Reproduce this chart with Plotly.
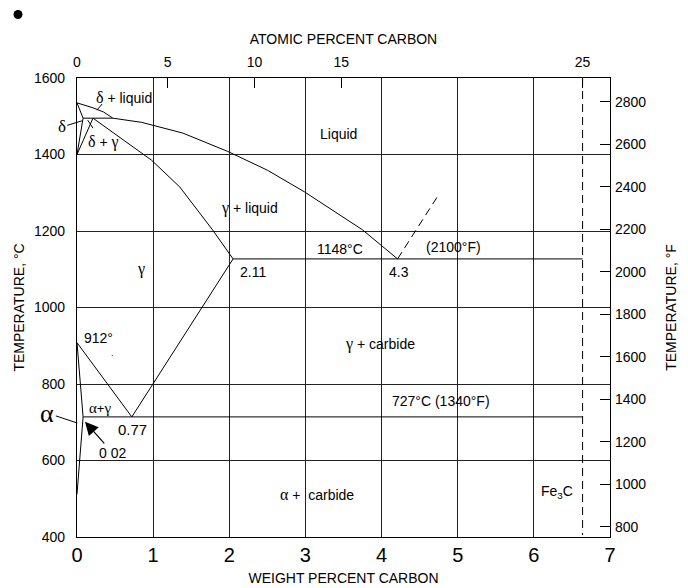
import plotly.graph_objects as go

# weight percent carbon / temperature (deg C)
delta_liq_x = [0, 0.21, 0.35, 0.47]
delta_liq_t = [1535, 1522, 1511, 1495]
liquidus_x = [0.47, 0.85, 1.39, 1.98, 2.5, 2.99, 3.75, 4.21]
liquidus_t = [1495, 1484, 1456, 1408, 1359, 1302, 1203, 1127]
solidus_x = [0.21, 0.56, 0.98, 1.35, 1.78, 2.05]
solidus_t = [1495, 1446, 1385, 1315, 1203, 1127]
acm_x = [2.05, 0.72]
acm_t = [1127, 714]
a3_x = [0, 0.72]
a3_t = [908, 714]
alpha_x = [0, 0.08, 0]
alpha_t = [908, 714, 512]
delta_sol_x = [0, 0.08, 0]
delta_sol_t = [1535, 1495, 1400]
gamma_low_x = [0.21, 0]
gamma_low_t = [1495, 1400]
peritectic_x = [0.08, 0.47]
peritectic_t = [1495, 1495]
eutectic_x = [2.05, 6.64]
eutectic_t = [1127, 1127]
eutectoid_x = [0.08, 6.64]
eutectoid_t = [714, 714]
fe3c_x = [6.64, 6.64]
fe3c_t = [1600, 405]
ext_x = [4.21, 4.75]
ext_t = [1127, 1295]

wt_ticks = [0, 1, 2, 3, 4, 5, 6, 7]
c_ticks = [400, 600, 800, 1000, 1200, 1400, 1600]
at_pos = [0, 1.19, 2.33, 3.47, 6.64]
at_labels = ["0", "5", "10", "15", "25"]
f_ticks = [800, 1000, 1200, 1400, 1600, 1800, 2000, 2200, 2400, 2600, 2800]

SANS = "Liberation Sans, Arial, sans-serif"


def g(s, size=16):
    # greek letters in a serif face, like the printed diagram
    return ('<span style="font-family:Liberation Serif, serif;font-size:%dpx">' % size) + s + '</span>'


fig = go.Figure()

solid = [
    (delta_liq_x, delta_liq_t), (liquidus_x, liquidus_t), (solidus_x, solidus_t),
    (acm_x, acm_t), (a3_x, a3_t), (alpha_x, alpha_t), (delta_sol_x, delta_sol_t),
    (gamma_low_x, gamma_low_t), (peritectic_x, peritectic_t),
    (eutectic_x, eutectic_t), (eutectoid_x, eutectoid_t),
]
for xs, ts in solid:
    fig.add_trace(go.Scatter(x=xs, y=ts, mode="lines", line=dict(color="black", width=1),
                             hoverinfo="skip", showlegend=False))

for xs, ts in [(fe3c_x, fe3c_t), (ext_x, ext_t)]:
    fig.add_trace(go.Scatter(x=xs, y=ts, mode="lines",
                             line=dict(color="black", width=1, dash="8px,5px"),
                             hoverinfo="skip", showlegend=False))

# dummy trace so the top / right axes get drawn
fig.add_trace(go.Scatter(x=[0], y=[800], xaxis="x2", yaxis="y2", mode="markers",
                         marker=dict(opacity=0), hoverinfo="skip", showlegend=False))

# labels: (text, x, T, size)
labels = [
    (g("δ") + " + liquid", 0.62, 1550, 14),
    (g("δ") + " + " + g("γ"), 0.35, 1433, 14),
    ("Liquid", 3.44, 1454, 14),
    (g("γ") + " + liquid", 2.26, 1260, 14),
    ("1148°C", 3.45, 1153, 14),
    ("(2100°F)", 4.95, 1158, 14),
    ("2.11", 2.31, 1093, 14),
    ("4.3", 4.23, 1093, 14),
    (g("γ"), 0.84, 1100, 14),
    ("912°", 0.28, 920, 14),
    (".", 0.47, 880, 9),
    (g("γ") + " + carbide", 3.98, 905, 14),
    (g("α", 15) + "+" + g("γ", 15), 0.30, 737, 13),
    ("0.77", 0.73, 682, 15),
    ("727°C (1340°F)", 4.78, 756, 14),
    (g("α") + " +  carbide", 3.15, 510, 14),
    ("Fe<sub>3</sub>C", 6.3, 518, 14),
]
for txt, x, t, sz in labels:
    fig.add_annotation(x=x, y=t, text=txt, showarrow=False,
                       font=dict(family=SANS, size=sz, color="black"))

# labels with pointer lines / arrows
fig.add_annotation(x=0.066, y=1488, ax=-0.2, ay=1472, axref="x", ayref="y",
                   text=g("δ", 17), showarrow=True, arrowhead=0, arrowwidth=1,
                   arrowcolor="black", font=dict(family=SANS, size=15, color="black"))
fig.add_annotation(x=0.004, y=698, ax=-0.39, ay=724, axref="x", ayref="y",
                   text=g("α", 26), showarrow=True, arrowhead=0, arrowwidth=1,
                   arrowcolor="black", font=dict(family=SANS, size=22, color="black"))
fig.add_annotation(x=0.105, y=701, ax=0.47, ay=620, axref="x", ayref="y",
                   text="0 02", showarrow=True, arrowhead=2, arrowsize=2.2, arrowwidth=1.2,
                   arrowcolor="black", font=dict(family=SANS, size=14, color="black"))

fig.add_shape(type="line", x0=0.26, y0=1516, x1=0.33, y1=1532,
              line=dict(color="black", width=1))
fig.add_shape(type="line", x0=0.14, y0=1490, x1=0.21, y1=1469,
              line=dict(color="black", width=1))

# bullet in the corner
fig.add_shape(type="circle", xref="paper", yref="paper",
              x0=-0.1191, x1=-0.1023, y0=1.1285, y1=1.1481,
              fillcolor="black", line=dict(color="black", width=0))

axis_font = dict(family=SANS, size=14, color="black")

# the page body keeps its default 8px margin, so the figure is 8px smaller
fig.update_layout(
    width=680, height=580,
    margin=dict(l=69, r=78, t=70, b=51, autoexpand=False),
    paper_bgcolor="white", plot_bgcolor="white",
    showlegend=False,
    font=dict(family=SANS, color="black"),
    xaxis=dict(range=[0, 7], tickvals=wt_ticks, showgrid=True, gridcolor="#222", gridwidth=1,
               zeroline=False, showline=True, linecolor="black", linewidth=1.2, mirror=True,
               ticks="", tickfont=dict(family=SANS, size=20, color="black"), automargin=False,
               title=dict(text="WEIGHT PERCENT CARBON", font=axis_font, standoff=8)),
    yaxis=dict(range=[400, 1600], tickvals=c_ticks, showgrid=True, gridcolor="#222", gridwidth=1,
               zeroline=False, showline=True, linecolor="black", linewidth=1.2, mirror=True,
               ticks="", tickfont=dict(family=SANS, size=14, color="black"), ticklabelstandoff=8,
               automargin=False,
               title=dict(text="TEMPERATURE, °C", font=axis_font, standoff=6)),
    xaxis2=dict(range=[0, 7], overlaying="x", side="top", anchor="y",
                tickvals=at_pos, ticktext=at_labels, ticks="inside", ticklen=10,
                tickcolor="black", showgrid=False, zeroline=False, automargin=False,
                tickfont=dict(family=SANS, size=14, color="black"), ticklabelstandoff=7,
                title=dict(text="ATOMIC PERCENT CARBON", font=axis_font, standoff=6)),
    yaxis2=dict(range=[400 * 9 / 5 + 32, 1600 * 9 / 5 + 32], overlaying="y", side="right",
                anchor="x", tickvals=f_ticks, ticks="inside", ticklen=10, tickcolor="black",
                showgrid=False, zeroline=False, automargin=False,
                tickfont=dict(family=SANS, size=14, color="black"), ticklabelstandoff=4,
                title=dict(text="TEMPERATURE, °F", font=axis_font, standoff=20)),
)

fig.write_html("out.html")
